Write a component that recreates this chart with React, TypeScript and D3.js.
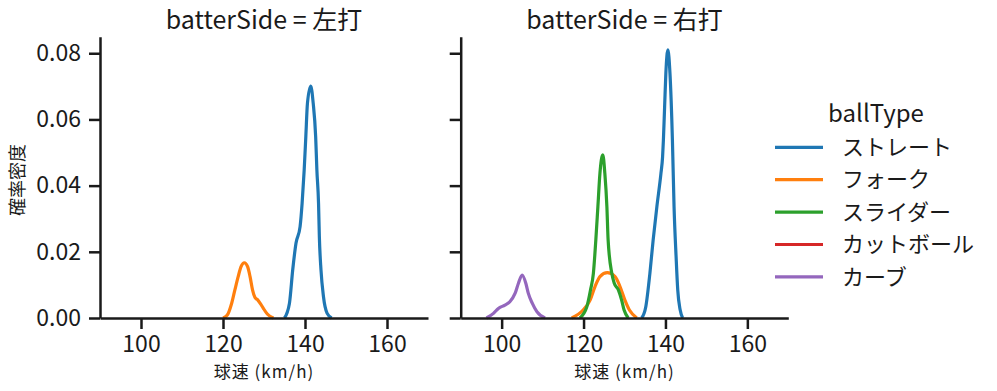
import React, { useRef, useEffect } from "react";
import * as d3 from "d3";

// ball types (legend order) and colors
const ballTypes = ["ストレート", "フォーク", "スライダー", "カットボール", "カーブ"];
const ballColors = ["#1f77b4", "#ff7f0e", "#2ca02c", "#d62728", "#9467bd"];
const panelTitles = ["batterSide = 左打", "batterSide = 右打"];
const xTicks = [100, 120, 140, 160];
const yTicks = [0, 0.02, 0.04, 0.06, 0.08];

// density curves: [speed, density]
const leftStraight = [[135.0, 0], [136.2, 0.0044], [137.0, 0.0145], [137.8, 0.0226], [138.8, 0.0276], [139.3, 0.0347], [139.8, 0.0447], [140.2, 0.0548], [140.6, 0.0649], [141.4, 0.0701], [142.0, 0.0649], [142.6, 0.0548], [142.9, 0.0447], [143.3, 0.0347], [143.5, 0.0246], [143.9, 0.0145], [144.5, 0.0065], [145.4, 0.0014], [146.5, 0]];
const leftFork = [[120.0, 0], [121.0, 0.0008], [122.1, 0.0044], [122.9, 0.0085], [123.7, 0.0125], [124.4, 0.0155], [125.2, 0.0167], [126.0, 0.0155], [126.6, 0.0125], [127.2, 0.0085], [127.8, 0.0062], [128.5, 0.0054], [129.2, 0.0042], [129.8, 0.003], [130.8, 0.0012], [132.3, 0]];
const rightStraight = [[134.2, 0], [135.2, 0.0034], [136.2, 0.0135], [137.0, 0.0236], [137.9, 0.0336], [138.9, 0.0437], [139.3, 0.0487], [139.5, 0.0538], [139.8, 0.0639], [140.1, 0.074], [140.6, 0.081], [141.1, 0.074], [141.7, 0.0538], [142.1, 0.0336], [142.6, 0.0185], [143.0, 0.0085], [143.6, 0.0024], [144.2, 0]];
const rightFork = [[117.1, 0], [119.9, 0.0024], [121.6, 0.0054], [122.8, 0.0095], [124.0, 0.0125], [125.8, 0.0137], [127.7, 0.0125], [128.9, 0.0095], [130.1, 0.0054], [131.2, 0.0024], [133.0, 0]];
const rightSlider = [[119.1, 0], [120.8, 0.0034], [121.7, 0.0085], [122.4, 0.0135], [123.0, 0.0236], [123.5, 0.0336], [124.0, 0.0437], [124.7, 0.0493], [125.2, 0.0437], [125.7, 0.0336], [126.0, 0.0236], [126.9, 0.0135], [127.5, 0.0105], [128.5, 0.0085], [129.3, 0.0054], [129.9, 0.0024], [130.9, 0]];
const rightCurve = [[96.3, 0], [98.0, 0.0014], [99.2, 0.0029], [100.8, 0.0039], [102.0, 0.0049], [103.3, 0.0075], [104.1, 0.0105], [105.0, 0.013], [105.9, 0.0105], [106.5, 0.0075], [107.5, 0.0044], [108.6, 0.0019], [110.6, 0]];

const panels = [
	{ title: panelTitles[0], series: [{ type: 0, data: leftStraight }, { type: 1, data: leftFork }] },
	{ title: panelTitles[1], series: [{ type: 0, data: rightStraight }, { type: 1, data: rightFork }, { type: 2, data: rightSlider }, { type: 4, data: rightCurve }] },
];

const FONT = "'Noto Sans CJK JP', 'Noto Sans', sans-serif";
const INK = "#1a1a1a";

const App = () => {
	const svgRef = useRef(null);

	useEffect(() => {
		const svg = d3.select(svgRef.current);
		svg.selectAll("*").remove();

		const top = 36.7, bottom = 318;
		const panelX = [[100, 428], [460.7, 788.3]];

		const y = d3.scaleLinear().domain([0, 0.085]).range([bottom, top]);

		panels.forEach((p, pi) => {
			const x = d3.scaleLinear().domain([90, 170]).range(panelX[pi]);
			const g = svg.append("g");

			// curves
			const line = d3.line()
				.x(d => x(d[0]))
				.y(d => y(d[1]))
				.curve(d3.curveMonotoneX);
			p.series.forEach(s => {
				g.append("path")
					.attr("d", line(s.data))
					.attr("fill", "none")
					.attr("stroke", ballColors[s.type])
					.attr("stroke-width", 3.2)
					.attr("stroke-linejoin", "round");
			});

			// x axis
			const ax = g.append("g")
				.attr("transform", `translate(0,${bottom})`)
				.call(d3.axisBottom(x).tickValues(xTicks).tickSize(11).tickPadding(6).tickSizeOuter(0));
			// y axis
			const ay = g.append("g")
				.attr("transform", `translate(${panelX[pi][0]},0)`)
				.call(d3.axisLeft(y).tickValues(yTicks).tickSize(11).tickPadding(8).tickSizeOuter(0)
					.tickFormat(pi === 0 ? d3.format(".2f") : () => ""));

			[ax, ay].forEach(a => {
				a.select(".domain").attr("stroke", INK).attr("stroke-width", 2.5);
				a.selectAll(".tick line").attr("stroke", INK).attr("stroke-width", 2.5);
				a.selectAll(".tick text").attr("fill", INK).style("font-family", FONT).style("font-size", "23px");
			});
			ax.selectAll(".tick text").attr("dy", "0.74em");

			// title
			g.append("text")
				.attr("x", (panelX[pi][0] + panelX[pi][1]) / 2)
				.attr("y", 29)
				.attr("text-anchor", "middle")
				.style("font-family", FONT)
				.style("font-size", "25px")
				.attr("fill", INK)
				.text(p.title);

			// x label
			g.append("text")
				.attr("x", (panelX[pi][0] + panelX[pi][1]) / 2)
				.attr("y", 378)
				.attr("text-anchor", "middle")
				.style("font-family", FONT)
				.style("font-size", "17px")
				.style("letter-spacing", "1px")
				.attr("fill", INK)
				.text("球速 (km/h)");
		});

		// y label
		svg.append("text")
			.attr("transform", `translate(24,180) rotate(-90)`)
			.attr("text-anchor", "middle")
			.style("font-family", FONT)
			.style("font-size", "18px")
			.attr("fill", INK)
			.text("確率密度");

		// legend
		const lg = svg.append("g");
		lg.append("text")
			.attr("x", 876)
			.attr("y", 122)
			.attr("text-anchor", "middle")
			.style("font-family", FONT)
			.style("font-size", "24px")
			.attr("fill", INK)
			.text("ballType");
		ballTypes.forEach((name, i) => {
			const ly = 147.3 + i * 32.4;
			lg.append("line")
				.attr("x1", 775).attr("x2", 823)
				.attr("y1", ly).attr("y2", ly)
				.attr("stroke", ballColors[i])
				.attr("stroke-width", 3.2);
			lg.append("text")
				.attr("x", 842)
				.attr("y", ly)
				.attr("dy", "0.35em")
				.style("font-family", FONT)
				.style("font-size", "22px")
				.attr("fill", INK)
				.text(name);
		});
	}, []);

	return (
		<div>
			<svg ref={svgRef} width={997} height={391}
				style={{ position: "absolute", left: 0, top: 0, background: "#fff" }}>
			</svg>
		</div>
	);
};

export default App;
